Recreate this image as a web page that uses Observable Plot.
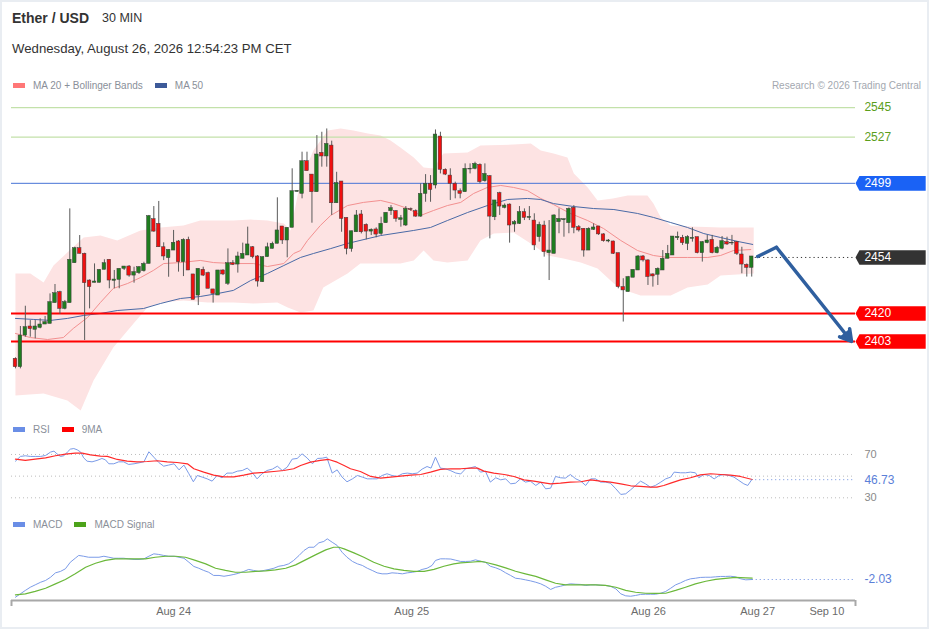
<!DOCTYPE html>
<html><head><meta charset="utf-8">
<script src="https://cdn.jsdelivr.net/npm/d3@7"></script>
<script src="https://cdn.jsdelivr.net/npm/@observablehq/plot@0.6"></script>
<style>
body{margin:0;background:#fff;}
#frame{position:relative;width:929px;height:629px;overflow:hidden;background:#fff;font-family:"Liberation Sans",Arial,sans-serif;}
#border{position:absolute;left:0;top:0;width:929px;height:629px;box-sizing:border-box;border:2px solid #e9edf2;pointer-events:none;}
.abs{position:absolute;white-space:nowrap;line-height:1;}
.sw{display:inline-block;width:12px;height:5px;vertical-align:middle;margin-right:8px;position:relative;top:-1px;}
.lg{font-size:10px;color:#8a8f99;}
.plot{position:absolute;left:0;}
</style>
</head><body>
<div id="frame">
  <div class="abs" style="left:12px;top:11px;font-size:14px;font-weight:bold;color:#333;">Ether / USD</div>
  <div class="abs" style="left:102px;top:12px;font-size:12.5px;color:#333;">30 MIN</div>
  <div class="abs" style="left:12px;top:41.5px;font-size:13.2px;color:#333;">Wednesday, August 26, 2026 12:54:23 PM CET</div>
  <div class="abs lg" style="left:13px;top:81px;"><span class="sw" style="background:#f77;"></span>MA 20 + Bollinger Bands<span class="sw" style="background:#3d5a99;margin-left:12px;"></span>MA 50</div>
  <div class="abs" style="right:8px;top:81px;font-size:10px;color:#a3a8b0;">Research © 2026 Trading Central</div>
  <div class="abs lg" style="left:13px;top:425px;"><span class="sw" style="background:#6a8ee6;"></span>RSI<span class="sw" style="background:#f00;margin-left:12px;"></span>9MA</div>
  <div class="abs lg" style="left:13px;top:520px;"><span class="sw" style="background:#6a8ee6;"></span>MACD<span class="sw" style="background:#4da31a;margin-left:12px;"></span>MACD Signal</div>
  <div id="main" class="plot" style="top:96px;"></div>
  <div id="rsiPanel" class="plot" style="top:440px;"></div>
  <div id="macdPanel" class="plot" style="top:535px;"></div>
  <div id="border"></div>
</div>
<script>
// ---------- DATA ----------
const open = [2392.5,2387.4,2406.6,2412.1,2410.1,2411.3,2413.3,2413.7,2426.3,2432.9,2422.8,2426.3,2450.5,2459.6,2456.2,2440.0,2438.6,2438.6,2446.5,2452.6,2439.8,2440.4,2447.1,2448.5,2443.0,2444.5,2445.7,2450.1,2477.2,2474.4,2460.2,2453.6,2458.2,2463.7,2451.1,2464.7,2443.7,2430.9,2446.5,2444.5,2434.6,2430.9,2446.1,2438.0,2450.5,2449.7,2453.2,2455.2,2460.2,2454.6,2439.0,2454.2,2459.2,2462.3,2472.8,2464.3,2472.0,2493.8,2492.6,2512.4,2504.3,2493.6,2517.5,2515.3,2521.9,2486.9,2500.1,2478.0,2459.2,2469.3,2480.1,2473.8,2469.7,2471.0,2468.3,2474.8,2482.1,2482.1,2476.8,2473.4,2483.3,2482.1,2478.8,2492.6,2498.7,2497.7,2527.4,2507.2,2503.7,2498.7,2494.2,2493.6,2507.4,2507.8,2510.2,2500.3,2503.3,2478.4,2493.0,2484.1,2486.1,2474.0,2474.4,2481.5,2478.0,2476.4,2466.3,2473.4,2456.6,2456.2,2475.4,2476.6,2474.8,2484.1,2472.4,2471.4,2458.2,2470.8,2472.8,2468.0,2463.7,2463.7,2456.6,2436.0,2433.0,2441.7,2446.1,2454.6,2452.2,2443.7,2443.5,2446.1,2453.2,2455.2,2465.7,2465.9,2462.3,2465.3,2466.3,2456.6,2462.7,2464.7,2456.6,2459.3,2463.3,2462.5,2463.3,2455.8,2449.5,2447.7];
const high = [2393.1,2412.1,2424.4,2415.7,2415.7,2416.8,2418.2,2431.9,2437.6,2433.5,2427.9,2483.5,2460.2,2467.3,2456.6,2440.4,2450.1,2446.5,2452.6,2452.6,2446.1,2447.1,2448.5,2449.1,2448.1,2448.5,2451.1,2479.5,2484.9,2488.0,2462.9,2458.6,2470.4,2464.3,2465.3,2466.3,2443.7,2447.1,2448.1,2445.1,2434.6,2446.1,2446.5,2459.2,2452.1,2457.2,2462.7,2472.4,2460.6,2455.2,2454.2,2462.7,2463.3,2490.2,2472.8,2472.0,2507.8,2494.6,2517.9,2517.9,2504.3,2528.0,2530.0,2532.0,2524.6,2505.7,2500.1,2478.0,2469.9,2482.5,2482.5,2474.4,2471.4,2472.0,2478.4,2481.1,2485.5,2482.5,2479.5,2484.9,2484.0,2482.9,2498.7,2504.3,2503.7,2531.4,2530.0,2507.8,2507.8,2499.7,2495.6,2510.8,2510.8,2511.8,2510.8,2510.8,2503.7,2488.6,2493.6,2486.5,2486.5,2476.4,2484.9,2483.5,2484.9,2480.5,2475.4,2476.0,2476.4,2479.9,2483.5,2477.4,2484.1,2485.5,2473.4,2471.4,2472.0,2474.4,2472.8,2468.4,2464.9,2463.9,2456.6,2441.1,2442.5,2446.5,2455.2,2455.2,2452.6,2444.1,2447.7,2458.2,2461.3,2466.7,2469.4,2467.4,2467.2,2472.0,2466.3,2463.7,2467.4,2467.4,2460.7,2466.7,2466.3,2467.4,2463.7,2460.2,2450.1,2454.6];
const low = [2386.4,2386.4,2405.6,2405.6,2404.6,2410.7,2413.3,2413.7,2426.3,2419.4,2422.2,2426.3,2450.5,2456.2,2403.6,2422.8,2438.6,2438.6,2446.5,2435.0,2435.0,2435.0,2446.1,2442.0,2438.4,2443.7,2445.1,2450.1,2469.3,2460.2,2452.1,2442.0,2458.2,2445.1,2442.4,2446.1,2428.3,2424.8,2442.4,2435.0,2426.3,2430.9,2443.0,2437.0,2449.1,2444.5,2453.2,2455.2,2453.2,2436.0,2439.0,2454.2,2459.2,2462.3,2461.9,2453.8,2472.0,2493.6,2489.6,2506.4,2474.8,2493.6,2508.8,2508.8,2479.5,2486.9,2469.3,2455.6,2457.2,2469.3,2468.3,2464.7,2467.3,2465.9,2467.3,2474.8,2479.5,2475.4,2472.4,2472.8,2482.0,2478.4,2478.4,2487.5,2487.5,2495.6,2504.7,2503.7,2488.6,2489.6,2489.6,2493.6,2504.7,2507.2,2498.7,2499.7,2465.3,2476.4,2479.5,2483.5,2462.7,2469.3,2474.0,2476.4,2476.4,2458.2,2463.3,2454.2,2440.0,2456.2,2468.4,2466.3,2468.4,2468.4,2469.4,2454.2,2458.2,2470.4,2467.4,2463.3,2462.9,2455.8,2435.0,2414.8,2433.0,2441.7,2446.1,2451.2,2437.0,2436.0,2437.0,2446.1,2453.2,2455.2,2464.3,2461.3,2458.2,2463.3,2456.2,2451.2,2462.3,2456.2,2456.2,2458.6,2461.3,2461.3,2455.2,2444.1,2442.1,2442.1];
const close = [2387.4,2406.6,2411.7,2410.5,2412.1,2413.3,2414.7,2426.9,2432.3,2422.8,2426.9,2452.6,2459.6,2456.2,2438.4,2436.0,2439.4,2446.5,2450.5,2440.0,2440.6,2447.1,2448.5,2443.0,2445.1,2448.1,2450.1,2479.1,2469.7,2460.2,2454.6,2458.6,2462.9,2451.1,2464.7,2446.1,2428.3,2447.1,2443.0,2435.0,2431.9,2446.1,2443.7,2450.5,2449.5,2454.6,2456.2,2461.9,2454.2,2439.4,2454.2,2460.2,2462.3,2470.4,2464.3,2472.0,2494.2,2494.4,2512.4,2506.4,2493.6,2516.5,2515.3,2522.9,2486.9,2499.1,2477.4,2459.2,2469.9,2479.5,2469.3,2469.7,2470.8,2467.9,2474.4,2481.1,2483.9,2477.4,2477.8,2483.5,2482.9,2478.8,2492.6,2498.7,2495.0,2528.6,2507.2,2504.3,2498.7,2494.6,2492.6,2507.8,2507.8,2510.8,2499.7,2504.7,2478.8,2488.6,2484.9,2485.5,2473.4,2475.4,2481.5,2478.0,2478.6,2461.3,2473.8,2457.2,2458.2,2479.5,2477.4,2477.2,2483.5,2472.0,2470.4,2458.2,2471.4,2472.2,2468.0,2463.9,2464.3,2456.2,2436.0,2434.0,2442.1,2446.5,2454.6,2452.2,2442.1,2442.5,2447.1,2453.2,2456.2,2466.7,2466.5,2462.7,2466.3,2465.9,2456.6,2463.3,2464.3,2456.6,2459.9,2463.9,2461.9,2462.9,2456.2,2449.7,2447.7,2454.6];

const bbUpper = [[0,2444.3],[3,2444.3],[5.7,2438.8],[7.7,2449.1],[10.5,2457.0],[13.8,2466.1],[17.2,2467.3],[20.6,2464.3],[25.3,2470.4],[29.4,2472.2],[34.0,2473.4],[37.4,2476.4],[44.1,2476.4],[47.6,2477.0],[51.0,2476.4],[54.3,2474.6],[55.7,2470.4],[57.7,2500.7],[60.3,2518.9],[63.2,2531.0],[65.8,2532.3],[68.4,2531.0],[71.3,2529.2],[73.9,2528.0],[75.9,2525.0],[77.9,2520.7],[80.6,2514.7],[82.6,2508.6],[84.6,2508.0],[86.6,2517.1],[91.5,2517.7],[94.1,2521.9],[100.8,2522.5],[104.3,2523.2],[106.3,2518.9],[108.9,2517.1],[111.7,2514.7],[113.0,2505.0],[115.8,2496.5],[117.8,2488.6],[120.9,2489.8],[123.9,2491.6],[127.9,2491.6],[129.1,2486.7],[130.6,2478.3],[132.6,2473.4],[136.6,2472.8],[142.7,2472.2],[149.4,2472.2]];
const bbLower = [[0,2370.2],[5.7,2371.5],[10.5,2367.2],[13.2,2361.1],[15.8,2379.3],[19.8,2399.4],[23.9,2413.9],[26.7,2423.6],[29.4,2426.7],[34.0,2427.9],[38.9,2426.7],[44.1,2426.7],[48.2,2426.1],[53.0,2426.7],[55.1,2423.6],[57.7,2420.6],[60.3,2421.8],[62.3,2435.8],[67.2,2444.3],[69.8,2450.3],[73.9,2450.3],[77.9,2450.3],[80.6,2452.2],[82.6,2458.2],[84.6,2452.2],[87.4,2450.9],[91.5,2452.2],[94.1,2464.3],[96.8,2468.5],[100.8,2469.2],[104.9,2461.3],[107.7,2455.2],[110.9,2453.4],[114.4,2450.9],[117.8,2447.3],[121.1,2438.2],[123.5,2434.0],[126.5,2430.9],[132.6,2430.9],[136.0,2435.8],[140.1,2437.6],[142.7,2443.1],[149.4,2444.3]];
const ma20 = [[0,2407.9],[3.0,2405.4],[6.5,2404.2],[9.7,2405.4],[11.7,2410.9],[14.6,2417.6],[17.2,2426.7],[19.8,2435.2],[22.7,2438.2],[25.3,2441.8],[27.9,2446.1],[30.0,2450.3],[33.4,2450.9],[37.4,2452.2],[40.1,2450.9],[44.1,2450.3],[48.2,2450.3],[51.0,2448.5],[54.3,2450.3],[56.3,2456.4],[57.7,2458.2],[59.1,2464.3],[61.7,2473.4],[63.8,2479.5],[67.2,2485.5],[70.4,2487.4],[73.9,2488.6],[76.5,2486.7],[79.4,2483.7],[82.0,2479.5],[84.6,2482.5],[87.4,2485.5],[90.1,2487.4],[92.7,2492.8],[95.5,2496.5],[98.2,2497.7],[100.8,2496.5],[103.6,2494.6],[106.3,2489.8],[108.9,2486.1],[112.3,2480.7],[115.8,2476.4],[119.0,2471.6],[122.5,2464.3],[125.9,2458.2],[129.1,2455.2],[132.0,2454.0],[136.0,2454.0],[140.1,2454.0],[142.7,2455.2],[145.3,2458.2],[148.8,2458.8]];
const ma50 = [[0,2417.0],[3.6,2416.4],[7.1,2415.8],[10.5,2417.0],[13.8,2418.8],[17.2,2420.0],[20.6,2421.8],[25.9,2423.0],[29.4,2426.1],[33.4,2429.1],[37.4,2430.3],[40.9,2432.1],[44.1,2434.0],[47.6,2440.0],[51.0,2444.3],[54.3,2449.1],[57.7,2454.0],[60.3,2456.4],[63.8,2459.4],[67.2,2462.5],[73.9,2467.3],[80.6,2470.4],[84.0,2472.2],[87.4,2476.4],[91.5,2481.3],[95.5,2485.5],[99.6,2489.2],[103.6,2489.8],[106.3,2489.2],[108.9,2486.7],[113.0,2484.9],[117.0,2483.7],[121.1,2483.1],[125.9,2480.7],[129.1,2478.3],[132.6,2475.2],[136.0,2472.2],[139.3,2468.5],[142.7,2466.1],[146.2,2463.7],[149.2,2461.9]];

const resistanceLevels = [2545, 2527];
const pivotLevel = 2499;
const lastPrice = 2454;
const supportLevels = [2420, 2403];
const scenarioX = [150.2, 154.0, 169.2];
const scenarioY = [2454.6, 2460.2, 2403.0];

const rsi = [[0,63.8],[1,68.2],[2,68.8],[3,68.2],[4,68.2],[5.1,68.2],[6.1,69.1],[7.1,72.2],[7.8,73.1],[8.4,70.6],[9.1,68.2],[9.8,68.8],[10.5,72.2],[11.1,74.9],[11.8,75.5],[12.5,74.3],[13.2,72.2],[13.8,66.9],[14.5,63.8],[15.5,63.2],[16.5,64.5],[17.5,66.3],[18.2,65.1],[18.9,61.4],[19.9,61.4],[20.9,63.2],[21.9,63.2],[22.9,60.8],[24,61.4],[25,62.3],[26,63.2],[27,72.5],[28,67.5],[29,62.6],[30,59.2],[31,60.2],[32.1,61.4],[33.1,55.8],[34.1,60.2],[35.1,52.2],[36,44.8],[36.8,50.6],[37.8,49.1],[38.8,47.5],[39.8,45.4],[40.8,50.6],[41.8,48.5],[42.8,52.8],[43.9,52.8],[44.9,54.6],[45.9,55.2],[46.9,57.4],[47.9,53.4],[48.9,47.5],[49.9,52.2],[50.9,55.2],[52,56.5],[53,59.2],[54,55.2],[55,58.3],[56,65.7],[57,66.3],[58,70.6],[59,66.9],[60.1,61.4],[61.1,66.3],[62.1,66.6],[63,67.5],[64.1,52.8],[65.1,55.8],[66.1,49.1],[67.1,44.8],[68.2,47.5],[69.2,50.6],[70.2,49.1],[71.2,47.5],[72.2,47.5],[73.2,47.5],[74.2,50.6],[75.2,52.2],[76.2,50.6],[77.3,49.7],[78.3,52.2],[79.3,52.8],[80.3,52.2],[81.3,52.8],[82.3,56.5],[83.3,58.9],[84.1,57.4],[85,67.5],[86,57.4],[87,56.8],[88.1,55.0],[89.1,52.9],[90.1,52.0],[91.1,56.8],[92.1,57.7],[93.1,58.9],[94.1,53.7],[95.1,54.6],[96.1,44.5],[97.2,48.5],[98.2,46.6],[99.2,47.5],[100.2,42.9],[101.2,43.5],[102.2,47.5],[103.2,44.5],[104.2,45.4],[105.3,41.4],[106.3,44.5],[107.3,38.3],[108.3,38.9],[109.3,49.7],[110.3,48.5],[111.3,48.2],[112.3,51.5],[113.4,47.5],[114.4,45.4],[115.4,41.4],[116.4,47.5],[117.4,47.5],[118.4,44.5],[119.4,44.5],[120.4,43.5],[121.5,38.3],[122.5,33.1],[123.5,33.7],[124.5,37.4],[125.5,41.4],[126.5,45.4],[127.5,42.9],[128.5,39.8],[129.5,41.4],[130.6,44.5],[131.6,47.5],[132.6,49.1],[133.3,53.7],[134.6,53.1],[135.6,53.1],[136.6,53.7],[137.6,53.1],[138.3,48.5],[139.3,51.5],[140.4,50.6],[141.4,47.5],[142.4,50.6],[143.4,51.5],[144.4,50.6],[145.4,49.1],[146.4,46.0],[147.4,42.9],[148.2,41.4],[149,46.73]];
const rsiMA9 = [[0,65.7],[2,64.5],[4,65.7],[6.1,66.9],[8.1,68.8],[10.1,70.3],[12.1,71.2],[13.5,71.2],[15.2,69.7],[17.2,68.5],[18.6,68.2],[20.6,65.4],[22.6,63.8],[24.6,63.2],[26.7,63.5],[28.7,64.2],[30.7,63.2],[32.7,62.6],[34.8,61.4],[36.1,56.8],[38.1,53.7],[40.1,50.9],[42.2,49.4],[44.2,49.4],[46.2,50.9],[48.2,52.8],[50.3,53.4],[52.3,54.3],[54.3,55.2],[56.3,56.8],[57.7,59.8],[59.7,62.9],[61.7,64.5],[63.4,65.4],[65.1,62.9],[66.5,59.8],[67.8,56.8],[69.8,54.3],[71.9,49.7],[73.9,48.2],[75.9,49.1],[77.9,50.0],[80,50.9],[82,51.5],[84,53.7],[86,56.2],[88.1,56.8],[90.1,56.8],[92.1,57.4],[93.5,57.4],[94.8,54.6],[96.8,52.8],[98.9,51.5],[100.9,49.7],[102.9,46.6],[104.9,45.4],[107,43.8],[108.3,42.9],[110.3,43.5],[112.3,44.5],[114.4,44.8],[116.4,46.6],[118.4,45.4],[120.4,44.5],[122.5,42.9],[124.5,41.1],[126.5,40.5],[128.5,39.8],[129.8,39.8],[131.2,41.4],[132.6,43.5],[134.6,46.6],[136.6,48.5],[138.6,51.2],[140.7,52.2],[142.7,51.5],[144.7,50.9],[146.7,49.7],[149.1,46.9]];
const rsiGuides = [70, 50, 30];
const rsiGuideLabels = [70, 30];
const rsiLast = 46.73;

const macd = [[0,-10.9],[1,-9.2],[2,-7.5],[3,-5.9],[4,-4.7],[5.1,-3.4],[6.1,-2.5],[7.1,-0.9],[8.1,1.3],[9.1,2.0],[10.1,3.3],[11.1,6.6],[12.1,8.6],[12.8,10.0],[13.8,9.6],[14.8,9.1],[15.9,9.1],[16.9,9.1],[17.9,9.6],[18.9,9.1],[19.9,8.6],[20.9,8.6],[21.9,8.6],[22.9,8.3],[24,8.0],[25,8.0],[26,8.3],[27,9.6],[28,10.8],[29,10.5],[30,10.0],[31,9.6],[32.1,9.6],[33.1,9.1],[34.1,8.6],[35.1,6.6],[36.1,4.5],[37.1,3.6],[38.1,2.5],[39.1,1.6],[40.1,0.0],[41.2,0.0],[42.2,-0.4],[43.2,0.0],[44.2,0.5],[45.2,1.1],[46.2,2.0],[47.2,3.0],[48.2,2.5],[49.3,2.0],[50.3,2.5],[51.3,3.0],[52.3,3.6],[53.3,4.6],[54.3,5.0],[55.3,5.8],[56.3,7.5],[57.4,10.0],[58.4,12.5],[59.4,14.1],[60.4,14.1],[61.4,16.3],[62.4,17.0],[63.1,18.3],[64.1,16.6],[65.1,15.0],[66.1,11.6],[67.1,9.1],[68.2,7.0],[69.2,5.8],[70.2,5.0],[71.2,3.6],[72.2,2.5],[73.2,1.3],[74.2,0.8],[75.2,0.8],[76.2,1.3],[77.3,1.1],[78.3,0.8],[79.3,1.3],[80.3,1.6],[81.3,2.0],[82.3,3.0],[83.3,3.6],[84.3,5.0],[85,7.5],[86,8.3],[87,8.3],[88.1,8.2],[89.1,7.6],[90.1,7.0],[91.1,7.0],[92.1,7.1],[93.1,7.8],[94.1,7.1],[95.1,6.6],[96.1,4.6],[97.2,3.8],[98.2,2.8],[99.2,1.3],[100.2,0.0],[101.2,-1.4],[102.2,-1.7],[103.2,-2.2],[104.2,-2.7],[105.3,-3.4],[106.3,-4.2],[107.3,-5.4],[108.3,-7.0],[109.3,-5.9],[110.3,-5.4],[111.3,-4.7],[112.3,-4.2],[113.4,-4.4],[114.4,-4.5],[115.4,-5.0],[116.4,-4.7],[117.4,-4.7],[118.4,-4.9],[119.4,-5.0],[120.4,-5.4],[121.5,-6.7],[122.5,-9.2],[123.5,-10.2],[124.5,-10.4],[125.5,-10.0],[126.5,-9.5],[127.5,-9.4],[128.5,-9.4],[129.5,-9.4],[130.6,-8.9],[131.6,-8.0],[132.6,-6.4],[133.6,-4.7],[134.6,-3.7],[135.6,-2.5],[136.6,-1.7],[137.6,-1.4],[138.6,-1.0],[139.7,-0.9],[140.7,-0.9],[141.7,-0.7],[142.7,-0.5],[143.7,-0.5],[144.7,-0.4],[145.7,-0.7],[146.8,-1.7],[147.8,-2.2],[149.1,-2.03]];
const macdSignal = [[0,-9.7],[2,-9.2],[4,-8.0],[6.1,-6.4],[8.1,-4.2],[10.1,-2.0],[12.1,0.8],[14.2,4.1],[16.2,6.1],[18.2,7.5],[20.2,8.3],[22.3,8.3],[24.3,8.3],[26.3,8.3],[28.3,9.1],[30.4,9.6],[32.4,9.6],[34.4,9.1],[36.4,7.5],[38.5,5.8],[40.5,3.6],[42.5,2.5],[44.5,1.6],[46.6,1.6],[48.6,2.0],[50.6,2.3],[52.6,2.8],[54.7,3.6],[56.7,5.3],[58.7,7.8],[60.7,10.3],[62.8,12.8],[64.4,14.1],[65.5,14.1],[66.5,13.3],[68.5,11.3],[70.5,9.1],[72.5,6.6],[74.6,4.6],[76.6,3.3],[78.6,2.5],[80.6,2.0],[82.7,2.0],[84.7,3.0],[86.7,4.6],[88.7,5.8],[90.1,6.3],[92.1,6.6],[94.1,7.0],[95.1,6.6],[97.2,5.3],[99.2,3.8],[101.2,2.1],[103.2,0.8],[105.3,-0.5],[107.3,-2.2],[109.3,-3.9],[111.3,-4.7],[113.4,-4.7],[115.4,-4.7],[117.4,-4.7],[119.4,-5.0],[121.5,-5.9],[123.5,-7.5],[125.5,-8.4],[127.5,-8.9],[129.5,-9.0],[131.6,-8.9],[133.6,-7.5],[135.6,-5.9],[137.6,-4.2],[139.7,-2.9],[141.7,-2.0],[143.7,-1.5],[145.7,-1.0],[147.8,-1.2],[149.1,-1.3]];
const macdLast = -2.03;

const tickLabels = ["Aug 24", "Aug 25", "Aug 26", "Aug 27", "Sep 10"];
const tickPos = [32, 80.2, 128.1, 150.2, 164.2];

// ---------- LAYOUT ----------
const xDomain = [-0.8, 170];
const LABEL_X = 171.8;
const TAG_TIP = 170, TAG_BODY = 170.8, TAG_END = 184.2, TAG_HALF = 4.45;
const FONT = '"Liberation Sans", Arial, sans-serif';
const GREEN = "#1f7d1f", RED = "#f01010";
const px = d => d[0], py = d => d[1];

function panel(height, yDomain, marks, marginBottom = 0) {
  return Plot.plot({
    width: 929, height, marginLeft: 11, marginRight: 74, marginTop: 0, marginBottom,
    x: {domain: xDomain, axis: null},
    y: {domain: yDomain, axis: null},
    color: {type: "identity"},
    style: {background: "transparent", overflow: "visible", fontFamily: FONT, fontSize: "11px"},
    marks
  });
}

function tagShape(v) {
  return [[TAG_TIP, v], [TAG_BODY, v + TAG_HALF], [TAG_END, v + TAG_HALF], [TAG_END, v - TAG_HALF], [TAG_BODY, v - TAG_HALF], [TAG_TIP, v]];
}
function tag(v, color) {
  return [
    Plot.line(tagShape(v), {x: px, y: py, fill: color, stroke: "none", curve: "linear"}),
    Plot.text([v], {x: LABEL_X, y: d => d, text: d => String(d), fill: "white", fontSize: 12, textAnchor: "start"})
  ];
}

const candles = close.map((c, i) => ({i, open: open[i], high: high[i], low: low[i], close: c}));
const bandPoly = bbUpper.concat(bbLower.slice().reverse());
const arrowColor = "#2f5f9f";

const mainChart = panel(316, [2359.9, 2551.7], [
  Plot.line(bandPoly, {x: px, y: py, fill: "#fde3e3", stroke: "none", curve: "linear"}),
  Plot.line(ma20, {x: px, y: py, stroke: "#f39090", strokeWidth: 1}),
  Plot.line(ma50, {x: px, y: py, stroke: "#4a6aa6", strokeWidth: 1}),
  Plot.ruleY(resistanceLevels, {x1: xDomain[0], x2: TAG_TIP, stroke: "#c3e1aa", strokeWidth: 1.2}),
  Plot.ruleY([pivotLevel], {x1: xDomain[0], x2: TAG_TIP, stroke: "#4674d6", strokeWidth: 1}),
  Plot.ruleY(supportLevels, {x1: xDomain[0], x2: TAG_TIP, stroke: "#ff0000", strokeWidth: 2}),
  Plot.ruleX(candles, {x: "i", y1: "low", y2: "high", stroke: "#5a5a5a", strokeWidth: 1}),
  Plot.rect(candles, {x1: d => d.i - 0.36, x2: d => d.i + 0.36, y1: "open", y2: "close",
    fill: d => d.close >= d.open ? GREEN : RED, stroke: "#3a3a3a", strokeWidth: 0.5}),
  Plot.ruleY([lastPrice], {x1: 149.7, x2: TAG_TIP, stroke: "#333", strokeDasharray: "1.2,3"}),
  Plot.line([[scenarioX[0], scenarioY[0]], [scenarioX[1], scenarioY[1]]], {x: px, y: py, stroke: arrowColor, strokeWidth: 3.5, strokeLinecap: "round"}),
  Plot.arrow([0], {x1: () => scenarioX[1], y1: () => scenarioY[1], x2: () => scenarioX[2], y2: () => scenarioY[2],
    stroke: arrowColor, fill: arrowColor, strokeWidth: 3.5, headLength: 5.5, headAngle: 60, strokeLinejoin: "miter"}),
  Plot.text(resistanceLevels, {x: LABEL_X, y: d => d, text: d => String(d), fill: "#5b9e1c", fontSize: 12, textAnchor: "start"}),
  ...tag(pivotLevel, "#1a62f5"),
  ...tag(lastPrice, "#333333"),
  ...supportLevels.flatMap(v => tag(v, "#ff0000"))
]);
document.getElementById("main").appendChild(mainChart);

const rsiChart = panel(65, [22.9, 82.9], [
  Plot.ruleY(rsiGuides, {x1: xDomain[0], x2: TAG_TIP, stroke: "#bdbdbd", strokeDasharray: "1,3"}),
  Plot.line(rsi, {x: px, y: py, stroke: "#7b9be8", strokeWidth: 1}),
  Plot.line(rsiMA9, {x: px, y: py, stroke: "#ff2a2a", strokeWidth: 1.2}),
  Plot.ruleY([rsiLast], {x1: 149, x2: TAG_TIP, stroke: "#6d8fe0", strokeDasharray: "1,3"}),
  Plot.text(rsiGuideLabels, {x: LABEL_X, y: d => d, text: d => String(d), fill: "#8a8a8a", fontSize: 11, textAnchor: "start"}),
  Plot.text([rsiLast], {x: LABEL_X, y: d => d, text: d => d.toFixed(2), fill: "#5b80d8", fontSize: 12, textAnchor: "start"})
]);
document.getElementById("rsiPanel").appendChild(rsiChart);

const macdDomain = [-12.53, 19.97];
const macdChart = panel(90, macdDomain, [
  Plot.line(macd, {x: px, y: py, stroke: "#7b9be8", strokeWidth: 1}),
  Plot.line(macdSignal, {x: px, y: py, stroke: "#6bb83a", strokeWidth: 1.2}),
  Plot.ruleY([macdLast], {x1: 149.1, x2: TAG_TIP, stroke: "#6d8fe0", strokeDasharray: "1,3"}),
  Plot.text([macdLast], {x: LABEL_X, y: d => d, text: d => d.toFixed(2), fill: "#5b80d8", fontSize: 12, textAnchor: "start"}),
  Plot.ruleY([macdDomain[0]], {x1: xDomain[0], x2: TAG_TIP, stroke: "#a8a8a8", strokeWidth: 2}),
  Plot.ruleX(xDomain, {y1: macdDomain[0], y2: macdDomain[0] - 3, stroke: "#a8a8a8", strokeWidth: 2}),
  Plot.text(tickLabels, {x: (d, i) => tickPos[i], frameAnchor: "bottom", lineAnchor: "top", dy: 7, fill: "#6b6b6b", fontSize: 11})
], 25);
document.getElementById("macdPanel").appendChild(macdChart);
</script>
</body></html>
